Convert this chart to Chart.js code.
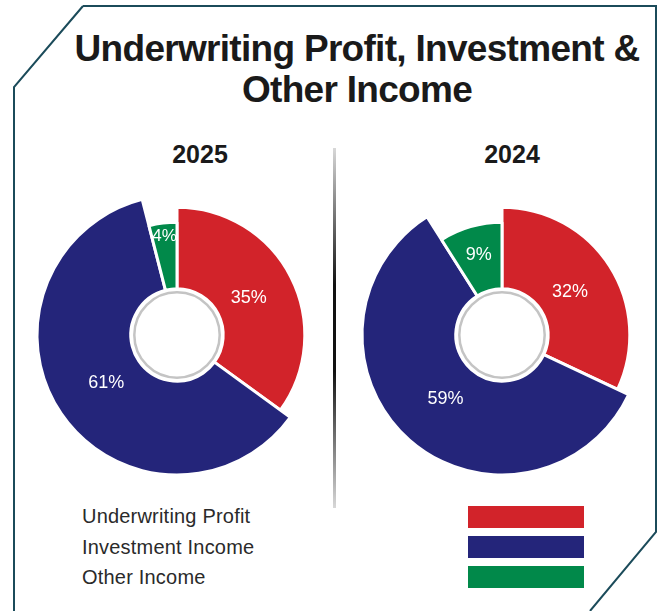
<!DOCTYPE html>
<html>
<head>
<meta charset="utf-8">
<script src="https://cdn.jsdelivr.net/npm/chart.js@4/dist/chart.umd.min.js"></script>
<style>
  html, body { margin: 0; padding: 0; background: #fff; }
  body { width: 662px; height: 611px; position: relative; overflow: hidden;
         font-family: "Liberation Sans", Arial, Helvetica, sans-serif; }
  #frame { position: absolute; left: 0; top: 0; }
  .title { position: absolute; left: 57px; width: 600px; top: 28px; text-align: center;
           font-weight: bold; font-size: 37px; line-height: 41px; color: #1a1a1a; letter-spacing: -0.7px; }
  .year { position: absolute; width: 120px; text-align: center; font-weight: bold;
          font-size: 25px; color: #1a1a1a; top: 140px; }
  .divider { position: absolute; left: 333px; top: 148px; width: 3px; height: 360px;
             background: linear-gradient(to bottom, #d8d8d8 0%, #111 38%, #111 62%, #d8d8d8 100%); }
  .pie { position: absolute; top: 185px; }
  #legend { position: absolute; left: 82px; top: 505px; }
  .lg-row { position: absolute; left: 0; white-space: nowrap; font-size: 20px; color: #2a2a2a; letter-spacing: 0.2px; }
  .lg-sw { position: absolute; left: 386px; width: 116px; height: 22px; }
</style>
</head>
<body>
<svg id="frame" width="662" height="611">
  <polyline points="83,6 656,6 656,532 590,611" fill="none" stroke="#1b4b5a" stroke-width="2"/>
  <polyline points="83,6 14,87 14,611" fill="none" stroke="#1b4b5a" stroke-width="2"/>
</svg>
<div class="title">Underwriting Profit, Investment &amp;<br>Other Income</div>
<div class="year" id="y0" style="left:140px"></div>
<div class="year" id="y1" style="left:452px"></div>
<div class="divider"></div>
<canvas id="pie2025" class="pie" width="300" height="300" style="left:27px"></canvas>
<canvas id="pie2024" class="pie" width="300" height="300" style="left:352px"></canvas>
<div id="legend"></div>

<script>
// Income sources and their shares (%) for each year
const categories = ['Underwriting Profit', 'Investment Income', 'Other Income'];
const years = ['2025', '2024'];
const share2025 = [35, 61, 4];
const share2024 = [32, 59, 9];

// Slice styling
const sliceColors = ['#d2232a', '#24257a', '#01894a'];
// Relative outer reach of each slice between the hole and the full radius
const sliceReach = [0.87, 1.0, 0.71];

// Gives each slice its own outer radius and writes the percentage inside it
const sliceStylePlugin = {
  id: 'sliceStyle',
  afterDatasetUpdate(chart, args) {
    const meta = args.meta;
    const inner = meta.controller.innerRadius;
    const outer = meta.controller.outerRadius;
    meta.data.forEach((arc, i) => {
      arc.outerRadius = inner + (outer - inner) * sliceReach[i];
    });
  },
  afterDraw(chart) {
    const ctx = chart.ctx;
    const meta = chart.getDatasetMeta(0);
    const values = chart.data.datasets[0].data;
    const total = values.reduce((a, b) => a + b, 0);
    const first = meta.data[0];
    // white hub with grey ring
    ctx.save();
    ctx.beginPath();
    ctx.arc(first.x, first.y, meta.controller.innerRadius - 3.5, 0, Math.PI * 2);
    ctx.fillStyle = '#ffffff';
    ctx.fill();
    ctx.lineWidth = 2.5;
    ctx.strokeStyle = '#c4c4c4';
    ctx.stroke();
    // percentage labels
    ctx.fillStyle = '#ffffff';
    ctx.textAlign = 'center';
    ctx.textBaseline = 'middle';
    meta.data.forEach((arc, i) => {
      const mid = (arc.startAngle + arc.endAngle) / 2;
      const share = values[i] / total;
      const narrow = share < 0.06;
      ctx.font = (narrow ? '17px' : '18px') + ' "Liberation Sans", Arial, sans-serif';
      const frac = narrow ? 0.8 : (i === 2 ? 0.56 : 0.42);
      const r = arc.innerRadius + (arc.outerRadius - arc.innerRadius) * frac;
      ctx.fillText(values[i] + '%', arc.x + Math.cos(mid) * r, arc.y + Math.sin(mid) * r);
    });
    ctx.restore();
  }
};

function makePie(id, values) {
  return new Chart(document.getElementById(id), {
    type: 'doughnut',
    data: {
      labels: categories,
      datasets: [{
        data: values,
        backgroundColor: sliceColors,
        borderColor: '#ffffff',
        borderWidth: 3,
        hoverOffset: 0
      }]
    },
    options: {
      responsive: false,
      animation: false,
      radius: 140,
      cutout: 49,
      layout: { padding: 0 },
      plugins: { legend: { display: false }, tooltip: { enabled: false } },
      events: []
    },
    plugins: [sliceStylePlugin]
  });
}

makePie('pie2025', share2025);
makePie('pie2024', share2024);

document.getElementById('y0').textContent = years[0];
document.getElementById('y1').textContent = years[1];

// Legend rows: category names on the left, colour bars on the right
const legend = document.getElementById('legend');
categories.forEach((name, i) => {
  const row = document.createElement('div');
  row.className = 'lg-row';
  row.style.top = (i * 30.5) + 'px';
  row.textContent = name;
  legend.appendChild(row);
  const sw = document.createElement('div');
  sw.className = 'lg-sw';
  sw.style.top = (i * 30 + 1) + 'px';
  sw.style.background = sliceColors[i];
  legend.appendChild(sw);
});
</script>
</body>
</html>
